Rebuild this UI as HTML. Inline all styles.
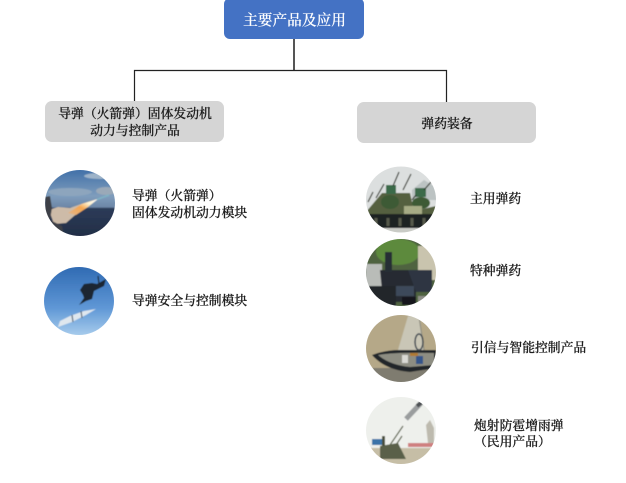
<!DOCTYPE html>
<html lang="zh">
<head>
<meta charset="utf-8">
<style>
html,body{margin:0;padding:0;background:#fff}
body{width:626px;height:483px;overflow:hidden}
svg{display:block}
text{font-family:"Liberation Serif","Noto Serif CJK SC",serif;font-size:12.800px;fill:#1c1c1c;stroke:#1c1c1c;stroke-width:.25px;font-weight:500}
.c{text-anchor:middle}
</style>
</head>
<body>
<svg width="626" height="483" viewBox="0 0 626 483" xmlns="http://www.w3.org/2000/svg">
<defs>
<filter id="b" x="-5%" y="-5%" width="110%" height="110%"><feGaussianBlur stdDeviation="0.5"/></filter>
<filter id="t" x="-5%" y="-20%" width="110%" height="140%"><feGaussianBlur stdDeviation="0.25"/></filter>
<linearGradient id="sky1" x1="0" y1="0" x2="0" y2="1"><stop offset="0" stop-color="#3f6fa8"/><stop offset=".4" stop-color="#7f9dbc"/><stop offset=".56" stop-color="#6d88a8"/><stop offset=".58" stop-color="#2c3b58"/><stop offset="1" stop-color="#222e46"/></linearGradient>
<linearGradient id="sky2" x1="0" y1="0" x2="0" y2="1"><stop offset="0" stop-color="#2f6ab2"/><stop offset=".6" stop-color="#5f97d6"/><stop offset="1" stop-color="#a9cdec"/></linearGradient>
<linearGradient id="fl" x1="0" y1="1" x2="1" y2="0"><stop offset="0" stop-color="#e0b48c"/><stop offset=".45" stop-color="#f5a650"/><stop offset=".7" stop-color="#fff2d0"/><stop offset="1" stop-color="#fff"/></linearGradient>
<clipPath id="c1"><ellipse cx="80" cy="203" rx="35" ry="33"/></clipPath>
<clipPath id="c2"><ellipse cx="79" cy="301" rx="35" ry="34"/></clipPath>
<clipPath id="c3"><ellipse cx="401" cy="199.500" rx="35" ry="33"/></clipPath>
<clipPath id="c4"><ellipse cx="401" cy="272.500" rx="35" ry="33.500"/></clipPath>
<clipPath id="c5"><ellipse cx="401" cy="348.500" rx="35" ry="33.500"/></clipPath>
<clipPath id="c6"><ellipse cx="401" cy="430.500" rx="35" ry="33.500"/></clipPath>
</defs>

<!-- connectors -->
<path d="M294 39V70" stroke="#555" stroke-width="2" fill="none"/>
<path d="M134.500 101V70.500H446.500V102" stroke="#222" stroke-width="1.200" fill="none"/>

<!-- boxes -->
<rect x="224" y="-2" width="140" height="41" rx="6" fill="#4472c4"/>
<rect x="45" y="101" width="179" height="41" rx="7" fill="#d5d5d5"/>
<rect x="357" y="102" width="179" height="41" rx="7" fill="#d5d5d5"/>

<!-- photo 1: missile launch -->
<g clip-path="url(#c1)"><g filter="url(#b)">
<rect x="44" y="169" width="72" height="68" fill="url(#sky1)"/>
<ellipse cx="100" cy="176" rx="16" ry="3" fill="#9db3c9"/>
<ellipse cx="70" cy="192" rx="22" ry="4" fill="#8da5bd"/>
<ellipse cx="106" cy="191" rx="10" ry="4" fill="#9aa9b8"/>
<path d="M49 210L58 207L70 208L84 203L97 199L88 206L74 216L66 223L54 224Z" fill="#cdbba8"/>
<path d="M68 213L82 204L98 199L88 207L76 215Z" fill="url(#fl)"/>
<path d="M97 199.500L109 195" stroke="#7fb2c4" stroke-width="1.500"/>
<path d="M45 197L50 196L52 208L50 220L62 226L64 236L45 236Z" fill="#3c3f47"/>
</g></g>

<!-- photo 2: jet and missile -->
<g clip-path="url(#c2)"><g filter="url(#b)">
<rect x="43" y="266" width="72" height="70" fill="url(#sky2)"/>
<path d="M106 279L97 284L92 283L84 284L80 290L83 295L84 298L79 305L86 301L92 299L94 291L104 286Z" fill="#1c2632"/>
<path d="M98 276L99 284" stroke="#1c2632" stroke-width="1.200"/>
<path d="M58 327L72 322L86 315L96 309L84 311L70 316L60 321Z" fill="#dfe7ee"/>
<path d="M72 315L73 322M81 311L82 318" stroke="#59677a" stroke-width="1.200"/>
</g></g>

<!-- photo 3: armoured AA vehicles -->
<g clip-path="url(#c3)"><g filter="url(#b)">
<rect x="365" y="166" width="72" height="68" fill="#dcdfdf"/>
<path d="M412 190L424 180L437 188V200H412Z" fill="#bcc3c3"/>
<path d="M366 212L382 193H394L410 193L414 211L436 206V222H366Z" fill="#55603f"/>
<rect x="386" y="185" width="10" height="9" fill="#3b6b4a"/>
<rect x="415" y="188" width="11" height="9" fill="#3b6b4a"/>
<path d="M393 186L399 172M403 190L411 174M376 198L384 184M368 202L373 192M424 190L431 182M412 200L416 195" stroke="#33382e" stroke-width="1.200"/>
<ellipse cx="390" cy="202" rx="9" ry="7" fill="#3e5a36"/>
<ellipse cx="421" cy="203" rx="9" ry="6" fill="#3e5a36"/>
<rect x="404" y="206" width="18" height="8" fill="#a6ab85"/>
<rect x="366" y="214" width="70" height="14" fill="#1f2420"/>
<rect x="366" y="228" width="70" height="6" fill="#c9cbc6"/>
<path d="M376 218V226M388 218V226M400 218V226M412 218V226M424 218V226" stroke="#565a4c" stroke-width="3"/>
</g></g>

<!-- photo 4: armoured police vehicles -->
<g clip-path="url(#c4)"><g filter="url(#b)">
<rect x="365" y="238" width="72" height="70" fill="#4f6440"/>
<ellipse cx="398" cy="252" rx="22" ry="13" fill="#5d8a3e"/>
<rect x="418" y="246" width="20" height="34" fill="#c9c4ae"/>
<rect x="366" y="264" width="16" height="22" fill="#b9bcb8"/>
<path d="M380 270H408L416 282V302H388L382 290Z" fill="#252a33"/>
<path d="M408 270H432V292H416Z" fill="#2d3642"/>
<path d="M385 252H392V272H385Z" fill="#262d36"/>
<rect x="366" y="286" width="30" height="22" fill="#23262b"/>
<rect x="396" y="286" width="18" height="10" fill="#3e4a5a"/>
<rect x="402" y="297" width="14" height="8" fill="#14171b"/>
<rect x="418" y="296" width="18" height="12" fill="#8e8f88"/>
</g></g>

<!-- photo 5: fuze cutaway -->
<g clip-path="url(#c5)"><g filter="url(#b)">
<rect x="365" y="314" width="72" height="69" fill="#b5a888"/>
<path d="M408 316L420 316L424 350L398 350Z" fill="#c9c6b6"/>
<path d="M419 316L424 350" stroke="#8f8d80" stroke-width="1.200"/>
<rect x="365" y="368" width="72" height="15" fill="#7f7c70"/>
<path d="M372 355Q385 350 400 350L436 350V368L410 372Q385 370 372 355Z" fill="#23282a"/>
<path d="M378 355Q395 352 434 353V365L410 367Q390 365 378 355Z" fill="#8d8d82"/>
<rect x="402" y="355" width="6" height="8" fill="#d9d9d4"/>
<rect x="416" y="356" width="7" height="8" fill="#35558a"/>
<rect x="410" y="353" width="8" height="3" fill="#b07a30"/>
<ellipse cx="419" cy="342" rx="4" ry="8" fill="none" stroke="#3d4650" stroke-width="1.500"/>
</g></g>

<!-- photo 6: AA gun firing -->
<g clip-path="url(#c6)"><g filter="url(#b)">
<rect x="365" y="396" width="72" height="70" fill="#eef0ec"/>
<rect x="365" y="448" width="72" height="18" fill="#c6bea6"/>
<path d="M406 419L421 403" stroke="#9a9d9e" stroke-width="5"/>
<path d="M417 406L422 402" stroke="#4e5154" stroke-width="4"/>
<path d="M390 445L403 426M396 445L402 436" stroke="#59604a" stroke-width="1.200"/>
<rect x="372" y="439" width="12" height="6" fill="#3a73a8"/>
<rect x="408" y="443" width="26" height="4" fill="#cf8080"/>
<path d="M428 443L426 425L430 420L434 428L434 443Z" fill="#bdbaae"/>
<path d="M380 446L398 443L406 459L380 459Z" fill="#5a6149"/>
<rect x="382" y="436" width="3" height="10" fill="#49503c"/>
</g></g>

<!-- labels -->
<g filter="url(#t)">
<text x="294.500" y="25" class="c" style="font-size:14.700px;fill:#fff;stroke:#fff;stroke-width:.15px">主要产品及应用</text>
<text x="135" y="118" class="c">导弹（火箭弹）固体发动机</text>
<text x="135" y="135" class="c">动力与控制产品</text>
<text x="447" y="128" class="c">弹药装备</text>
<text x="132" y="200">导弹（火箭弹）</text>
<text x="132" y="217">固体发动机动力模块</text>
<text x="132" y="305">导弹安全与控制模块</text>
<text x="470" y="203">主用弹药</text>
<text x="470" y="275">特种弹药</text>
<text x="471" y="352">引信与智能控制产品</text>
<text x="474" y="430">炮射防雹增雨弹</text>
<text x="474" y="446">（民用产品）</text>
</g>
</svg>
</body>
</html>
